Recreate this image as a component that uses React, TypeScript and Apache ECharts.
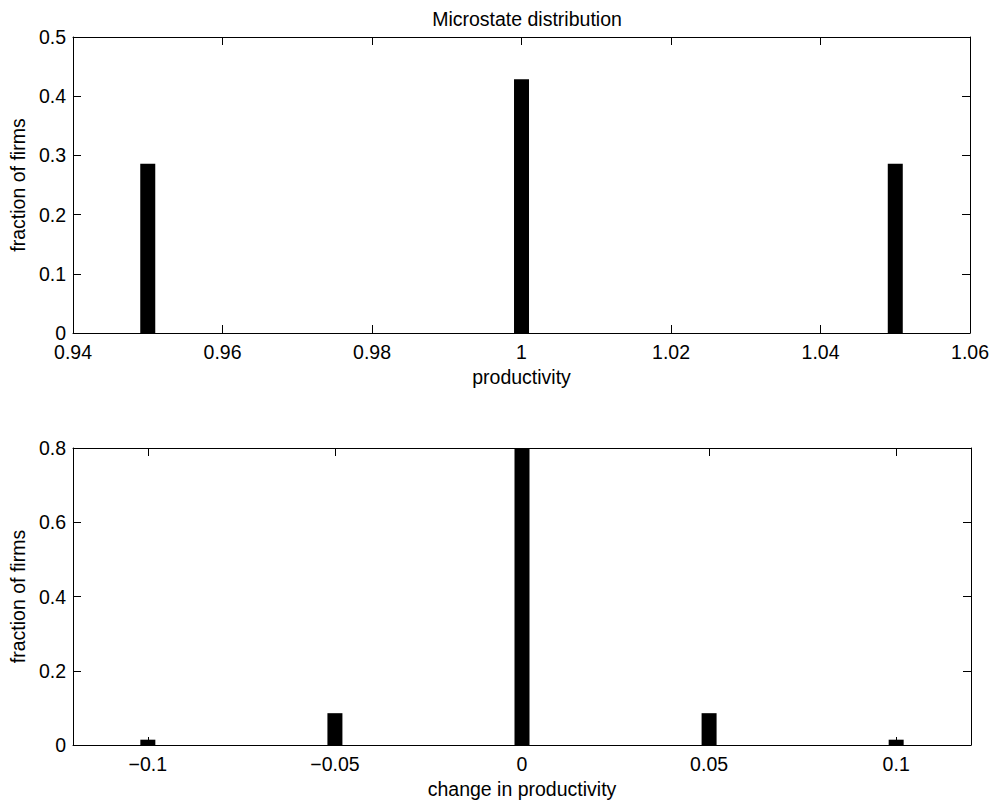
import React, { useEffect, useRef } from "react";
import * as echarts from "echarts";

const title = "Microstate distribution";
const topX = [0.95, 1.0, 1.05];
const topY = [0.2857, 0.4286, 0.2857];
const botX = [-0.1, -0.05, 0, 0.05, 0.1];
const botY = [0.0143, 0.0857, 0.8, 0.0857, 0.0143];
const botTicks = [-0.1, -0.05, 0, 0.05, 0.1];
const yName = "fraction of firms";
const topXName = "productivity";
const botXName = "change in productivity";

const FONT = "Liberation Sans";
const FS = 19.5;

const fmt = (v: number) => {
  const s = String(Math.round(v * 1000) / 1000);
  return s.replace("-", "\u2212");
};

export default function App() {
  const ref = useRef<HTMLDivElement>(null);
  useEffect(() => {
    if (!ref.current) return;
    const chart = echarts.init(ref.current, undefined, { renderer: "svg" });
    const lineStyle = { color: "#000", width: 1 };
    const tick = { show: true, inside: true, length: 8, lineStyle: { color: "#000", width: 1 } };
    const label = { color: "#000", fontFamily: FONT, fontSize: FS };
    const mkX = (gi: number, min: number, max: number, interval: number | undefined, custom: number[] | undefined, name: string, pos: "bottom" | "top") => {
      const primary = pos === "bottom";
      return {
        type: "value",
        gridIndex: gi,
        position: pos,
        min,
        max,
        interval,
        name: primary ? name : "",
        nameLocation: "middle",
        nameGap: 34,
        nameTextStyle: { color: "#000", fontFamily: FONT, fontSize: FS },
        axisLine: { show: true, onZero: false, lineStyle },
        axisTick: { ...tick, ...(custom ? { customValues: custom } : {}) },
        axisLabel: primary
          ? { ...label, margin: 9, formatter: fmt, ...(custom ? { customValues: custom } : {}) }
          : { show: false },
        splitLine: { show: false },
      };
    };
    const mkY = (gi: number, max: number, interval: number, pos: "left" | "right") => {
      const primary = pos === "left";
      return {
        type: "value",
        gridIndex: gi,
        position: pos,
        min: 0,
        max,
        interval,
        name: primary ? yName : "",
        nameLocation: "middle",
        nameGap: 44,
        nameTextStyle: { color: "#000", fontFamily: FONT, fontSize: FS },
        axisLine: { show: true, onZero: false, lineStyle },
        axisTick: tick,
        axisLabel: primary ? { ...label, margin: 7, formatter: fmt } : { show: false },
        splitLine: { show: false },
      };
    };
    chart.setOption({
      animation: false,
      backgroundColor: "#fff",
      title: {
        text: title,
        left: 522,
        textAlign: "center",
        top: 4,
        textStyle: { color: "#000", fontFamily: FONT, fontSize: FS, fontWeight: "normal" },
      },
      grid: [
        { left: 73, top: 37, width: 898, height: 296 },
        { left: 73, top: 448, width: 898, height: 297 },
      ],
      xAxis: [
        mkX(0, 0.94, 1.06, 0.02, undefined, topXName, "bottom"),
        mkX(0, 0.94, 1.06, 0.02, undefined, topXName, "top"),
        mkX(1, -0.12, 0.12, undefined, botTicks, botXName, "bottom"),
        mkX(1, -0.12, 0.12, undefined, botTicks, botXName, "top"),
      ],
      yAxis: [mkY(0, 0.5, 0.1, "left"), mkY(0, 0.5, 0.1, "right"), mkY(1, 0.8, 0.2, "left"), mkY(1, 0.8, 0.2, "right")],
      series: [
        {
          type: "bar",
          xAxisIndex: 0,
          yAxisIndex: 0,
          barWidth: 15,
          itemStyle: { color: "#000" },
          data: topX.map((x, i) => [x, topY[i]]),
        },
        {
          type: "bar",
          xAxisIndex: 2,
          yAxisIndex: 2,
          barWidth: 15,
          itemStyle: { color: "#000" },
          data: botX.map((x, i) => [x, botY[i]]),
        },
      ],
    });
    return () => chart.dispose();
  }, []);
  return (
    <div
      ref={ref}
      style={{ position: "fixed", left: 0, top: 0, width: 992, height: 801, background: "#fff" }}
    />
  );
}
